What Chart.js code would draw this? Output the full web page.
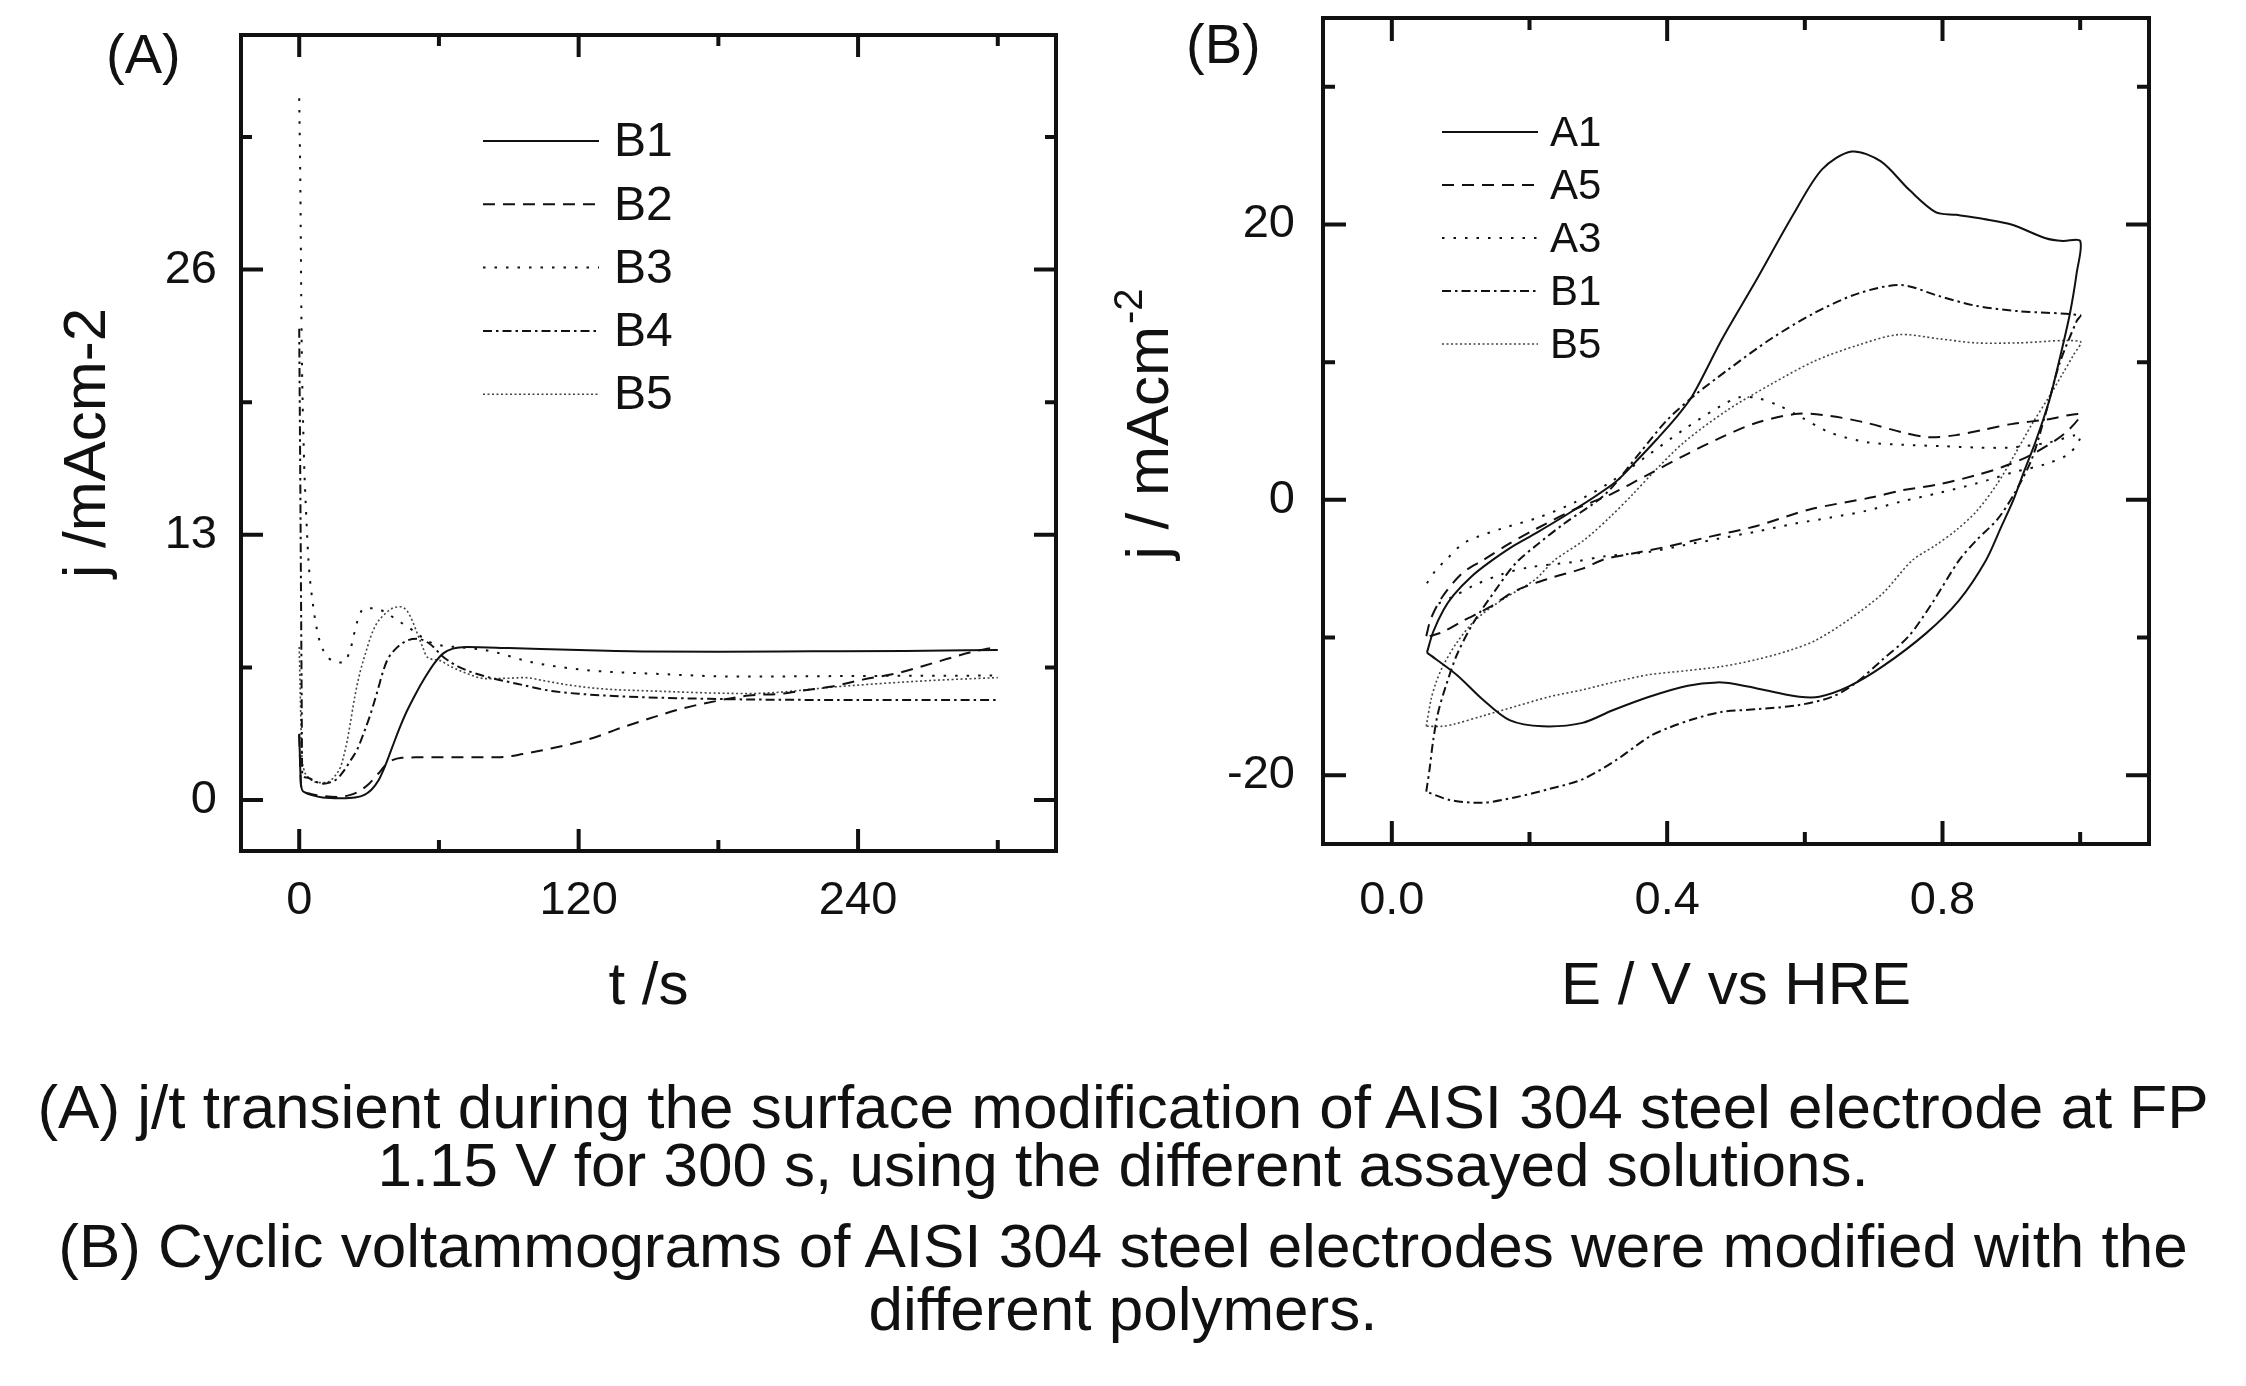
<!DOCTYPE html>
<html>
<head>
<meta charset="utf-8">
<script src="https://cdn.jsdelivr.net/npm/chart.js@4.4.0/dist/chart.umd.min.js"></script>
<style>
  html, body { margin: 0; padding: 0; background: #fff; }
  body { width: 2246px; height: 1386px; position: relative; overflow: hidden;
         font-family: "Liberation Sans", Arial, sans-serif; color: #111; }
  canvas { position: absolute; top: 0; }
  #chartA { left: 0; }
  #chartB { left: 1080px; }
  .panel { position: absolute; font-size: 56px; line-height: 56px; }
  .cap { position: absolute; left: 0; width: 2246px; text-align: center;
         font-size: 62px; line-height: 62px; white-space: nowrap; }
</style>
</head>
<body>
<canvas id="chartA" width="1080" height="1040"></canvas>
<canvas id="chartB" width="1166" height="1040"></canvas>
<div class="panel" style="left:106px; top:26px">(A)</div>
<div class="panel" style="left:1186px; top:16px">(B)</div>
<div class="cap" style="top:1076px">(A) j/t transient during the surface modification of AISI 304 steel electrode at FP</div>
<div class="cap" style="top:1134px">1.15 V for 300 s, using the different assayed solutions.</div>
<div class="cap" style="top:1215px">(B) Cyclic voltammograms of AISI 304 steel electrodes were modified with the</div>
<div class="cap" style="top:1278px">different polymers.</div>
<script>
// ---- (A) j/t transients: t in s, j in mA cm-2
const tB1 = [0, 0.8, 2, 5, 10, 18, 24, 28, 31, 34, 37, 40, 43, 46, 50, 54, 58, 62, 66, 72, 90, 120, 150, 180, 220, 260, 300];
const jB1 = [3.25, 0.7, 0.4, 0.25, 0.12, 0.08, 0.12, 0.25, 0.5, 0.95, 1.7, 2.6, 3.5, 4.3, 5.2, 6.0, 6.7, 7.2, 7.42, 7.5, 7.45, 7.35, 7.28, 7.27, 7.29, 7.31, 7.35];

const tB2 = [0, 0.8, 2, 5, 10, 16, 22, 26, 30, 34, 37, 40, 44, 50, 70, 86, 96, 105, 115, 122, 129, 136, 150, 165, 179, 193, 208, 215, 228, 242, 258, 273, 288, 300];
const jB2 = [3.2, 0.7, 0.4, 0.3, 0.2, 0.15, 0.25, 0.45, 0.8, 1.3, 1.7, 1.95, 2.07, 2.09, 2.09, 2.1, 2.25, 2.45, 2.7, 2.9, 3.15, 3.45, 3.98, 4.5, 4.85, 5.12, 5.22, 5.35, 5.55, 5.9, 6.25, 6.74, 7.23, 7.52];

const tB3 = [0, 0.5, 1, 2, 3, 4, 6, 8.3, 10.5, 14.8, 19, 22, 24.8, 27.6, 32, 37, 41, 49, 55, 62, 68, 82, 100, 125, 150, 190, 240, 300];
const jB3 = [34.4, 30, 23, 17, 14, 11.7, 9.5, 8.0, 7.3, 6.8, 6.74, 7.4, 8.7, 9.37, 9.4, 9.2, 8.9, 8.3, 7.8, 7.55, 7.5, 7.3, 6.75, 6.35, 6.2, 6.05, 6.08, 6.1];

const tB4 = [0, 0.5, 1, 1.3, 3, 4.8, 7, 10.5, 13, 16.3, 19, 22, 25, 27.6, 30, 32, 34, 36, 38, 40.6, 46, 50.6, 56, 62, 69, 79, 93.5, 108, 122, 135, 150, 175, 200, 250, 300];
const jB4 = [23.1, 15, 6, 1.3, 1.1, 1.04, 0.9, 0.8, 0.85, 1.04, 1.4, 1.93, 2.5, 3.25, 4.0, 4.72, 5.5, 6.3, 6.9, 7.31, 7.8, 7.9, 7.66, 7.0, 6.5, 6.09, 5.7, 5.35, 5.19, 5.1, 5.03, 4.96, 4.92, 4.9, 4.9];

const tB5 = [0, 0.5, 1, 2, 3.4, 5, 7.7, 10, 13.4, 15.5, 17.7, 19, 20.6, 22, 23.3, 24.8, 26.3, 28.5, 30.6, 33, 36, 40, 43.4, 46.3, 48.5, 50.6, 53, 55, 60, 65, 72, 80, 90, 97, 105, 115, 130, 150, 193, 236, 270, 300];
const jB5 = [7.5, 5, 2.5, 1.5, 1.19, 1.0, 0.86, 0.85, 0.95, 1.2, 1.6, 2.1, 2.9, 3.8, 4.7, 5.6, 6.34, 7.2, 7.97, 8.6, 9.03, 9.4, 9.47, 9.27, 8.8, 8.2, 7.5, 7.0, 6.85, 6.55, 6.2, 5.95, 5.97, 6.0, 5.85, 5.65, 5.45, 5.35, 5.22, 5.6, 5.85, 6.0];

const xTicksA = [0, 120, 240];
const xMinorA = [60, 180, 300];
const yTicksA = [0, 13, 26];
const yMinorA = [6.5, 19.5, 32.5];

// ---- (B) cyclic voltammograms: E in V vs HRE, j in mA cm-2
const eA1 = [0.051, 0.06, 0.075, 0.09, 0.115, 0.14, 0.175, 0.21, 0.266, 0.325, 0.355, 0.385, 0.41, 0.436, 0.48, 0.53, 0.583, 0.625, 0.668, 0.71, 0.752, 0.79, 0.82, 0.86, 0.9, 0.95, 0.975, 1.0,
             0.995, 0.985, 0.97, 0.955, 0.935, 0.918, 0.903, 0.885, 0.863, 0.824, 0.776, 0.713, 0.664, 0.621, 0.592, 0.55, 0.5, 0.473, 0.43, 0.374, 0.32, 0.277, 0.219, 0.171, 0.132, 0.094, 0.051];
const jA1 = [-11.1, -9.6, -8.0, -6.9, -5.6, -4.6, -3.4, -2.4, -0.7, 1.3, 2.8, 4.4, 5.8, 7.5, 11.7, 16.0, 20.7, 24.0, 25.3, 24.6, 22.5, 20.9, 20.7, 20.4, 20.0, 19.0, 18.8, 18.8,
             16.5, 13.5, 10.2, 7.2, 4.2, 2.0, 0, -2.0, -4.4, -7.3, -9.7, -12.1, -13.55, -14.3, -14.3, -13.9, -13.4, -13.26, -13.5, -14.3, -15.3, -16.2, -16.45, -16.0, -14.5, -12.7, -11.1];

const eA5 = [0.05, 0.057, 0.074, 0.103, 0.132, 0.17, 0.21, 0.265, 0.318, 0.371, 0.424, 0.477, 0.53, 0.59, 0.636, 0.689, 0.742, 0.78, 0.82, 0.86, 0.9, 0.954, 1.0,
             0.977, 0.93, 0.888, 0.85, 0.792, 0.742, 0.7, 0.607, 0.53, 0.46, 0.4, 0.35, 0.31, 0.277, 0.229, 0.18, 0.142, 0.103, 0.074, 0.055];
const jA5 = [-9.9, -8.6, -7.0, -5.3, -4.4, -3.2, -2.1, -0.7, 0.4, 1.8, 3.2, 4.5, 5.6, 6.25, 6.1, 5.6, 4.9, 4.55, 4.7, 5.1, 5.5, 5.85, 6.2,
             4.8, 3.3, 2.4, 1.8, 1.1, 0.7, 0.2, -0.7, -1.9, -2.7, -3.4, -3.9, -4.3, -5.0, -5.7, -6.6, -7.8, -8.8, -9.6, -9.9];

const eA3 = [0.051, 0.064, 0.078, 0.106, 0.159, 0.212, 0.265, 0.318, 0.371, 0.424, 0.477, 0.505, 0.53, 0.56, 0.593, 0.636, 0.689, 0.742, 0.8, 0.85, 0.9, 0.954, 1.0,
             0.985, 0.95, 0.903, 0.85, 0.795, 0.742, 0.689, 0.636, 0.583, 0.53, 0.477, 0.424, 0.371, 0.31, 0.265, 0.2, 0.16, 0.12, 0.09, 0.065];
const jA3 = [-6.06, -5.1, -4.4, -3.1, -2.1, -1.3, -0.2, 1.3, 3.2, 5.1, 6.8, 7.45, 7.4, 6.9, 6.05, 4.9, 4.2, 4.0, 3.9, 3.8, 3.8, 4.16, 4.7,
             3.4, 2.6, 2.0, 1.2, 0.5, -0.1, -0.8, -1.3, -1.75, -2.3, -2.8, -3.3, -3.8, -4.1, -4.5, -4.9, -5.4, -6.2, -7.0, -7.6];

const eB1 = [0.05, 0.055, 0.06, 0.067, 0.078, 0.095, 0.12, 0.15, 0.18, 0.21, 0.251, 0.31, 0.36, 0.4, 0.44, 0.487, 0.551, 0.615, 0.678, 0.74, 0.795, 0.848, 0.911, 1.0,
             0.995, 0.97, 0.95, 0.93, 0.905, 0.88, 0.85, 0.824, 0.785, 0.751, 0.713, 0.674, 0.64, 0.592, 0.533, 0.48, 0.44, 0.4, 0.374, 0.326, 0.277, 0.229, 0.18, 0.132, 0.084, 0.05];
const jB1cv = [-21.2, -19.5, -17.5, -15.5, -13.6, -11.2, -8.8, -6.6, -4.6, -3.3, -1.7, 0.4, 3.4, 5.8, 7.6, 9.4, 11.7, 13.6, 15.0, 15.6, 14.8, 14.1, 13.7, 13.4,
               13.0, 9.9, 6.3, 3.0, 0.5, -1.4, -2.9, -4.4, -7.5, -9.9, -11.6, -13.3, -14.3, -14.9, -15.2, -15.4, -15.9, -16.6, -17.2, -18.9, -20.3, -21.0, -21.6, -22.0, -21.8, -21.2];

const eB5 = [0.05, 0.057, 0.064, 0.074, 0.094, 0.122, 0.16, 0.208, 0.236, 0.28, 0.318, 0.35, 0.38, 0.424, 0.487, 0.551, 0.615, 0.678, 0.736, 0.795, 0.848, 0.911, 1.0,
             0.99, 0.975, 0.955, 0.93, 0.905, 0.88, 0.85, 0.82, 0.79, 0.756, 0.713, 0.664, 0.616, 0.58, 0.53, 0.48, 0.43, 0.374, 0.326, 0.277, 0.229, 0.18, 0.132, 0.09, 0.074, 0.05];
const jB5cv = [-16.45, -14.5, -13.3, -12.1, -10.4, -8.7, -7.27, -5.8, -4.4, -2.9, -1.2, 0.4, 2.0, 4.16, 6.5, 8.4, 10.1, 11.25, 12.0, 11.7, 11.4, 11.4, 11.5,
               10.5, 9.2, 7.5, 5.5, 3.3, 1.2, -0.8, -2.2, -3.3, -4.4, -6.8, -8.7, -10.2, -10.9, -11.6, -12.1, -12.4, -12.7, -13.2, -13.8, -14.3, -15.0, -15.7, -16.3, -16.45, -16.45];

const xTicksB = [0, 0.4, 0.8];
const xLabelsB = ['0.0', '0.4', '0.8'];
const xMinorB = [0.2, 0.6, 1.0];
const yTicksB = [-20, 0, 20];
const yLabelsB = ['-20', '0', '20'];
const yMinorB = [-10, 10, 30];

// line styles
const INK = '#111';
const SOLID = [];
const DASH = [12, 8];
const DOT = [2.5, 9];
const DASHDOT = [9, 4, 2.5, 4];
const FINEDOT = [2, 2.5];

const pts = (xs, ys) => xs.map((x, i) => ({ x, y: ys[i] }));

Chart.defaults.font.family = '"Liberation Sans", Arial, sans-serif';
Chart.defaults.color = INK;

// closed frame with inward ticks on all four sides
const frameTicks = {
  id: 'frameTicks',
  afterDatasetsDraw(chart, args, o) {
    const { ctx, chartArea: a, scales: { x, y } } = chart;
    ctx.save();
    ctx.strokeStyle = INK;
    ctx.lineWidth = 4;
    ctx.strokeRect(a.left, a.top, a.right - a.left, a.bottom - a.top);
    ctx.beginPath();
    const vx = (vals, len) => vals.forEach(v => {
      const px = x.getPixelForValue(v);
      ctx.moveTo(px, a.bottom); ctx.lineTo(px, a.bottom - len);
      ctx.moveTo(px, a.top); ctx.lineTo(px, a.top + len);
    });
    const vy = (vals, len) => vals.forEach(v => {
      const py = y.getPixelForValue(v);
      ctx.moveTo(a.left, py); ctx.lineTo(a.left + len, py);
      ctx.moveTo(a.right, py); ctx.lineTo(a.right - len, py);
    });
    vx(o.xMajor, o.major); vx(o.xMinor, o.minor);
    vy(o.yMajor, o.major); vy(o.yMinor, o.minor);
    ctx.stroke();
    ctx.restore();
  }
};

// legend drawn inside the plot area
const innerLegend = {
  id: 'innerLegend',
  afterDraw(chart, args, o) {
    const ctx = chart.ctx;
    ctx.save();
    chart.data.datasets.forEach((ds, i) => {
      const y = o.top + i * o.gap;
      ctx.beginPath();
      ctx.setLineDash(ds.borderDash);
      ctx.lineWidth = ds.borderWidth;
      ctx.strokeStyle = ds.borderColor;
      ctx.moveTo(o.x0, y); ctx.lineTo(o.x1, y);
      ctx.stroke();
      ctx.setLineDash([]);
      ctx.fillStyle = INK;
      ctx.font = o.size + 'px "Liberation Sans", Arial, sans-serif';
      ctx.textBaseline = 'middle';
      ctx.fillText(ds.label, o.textX, y + 2);
    });
    ctx.restore();
  }
};

// rotated y title with a superscript
const supTitle = {
  id: 'supTitle',
  afterDraw(chart, args, o) {
    if (!o.text) return;
    const ctx = chart.ctx;
    const main = o.size + 'px "Liberation Sans", Arial, sans-serif';
    const small = o.supSize + 'px "Liberation Sans", Arial, sans-serif';
    ctx.save();
    ctx.translate(o.x, o.y);
    ctx.rotate(-Math.PI / 2);
    ctx.fillStyle = INK;
    ctx.textBaseline = 'alphabetic';
    ctx.font = main;
    const w1 = ctx.measureText(o.text).width;
    ctx.font = small;
    const w2 = ctx.measureText(o.sup).width;
    const x0 = -(w1 + w2) / 2;
    const base = o.size * 0.36;
    ctx.font = main;
    ctx.fillText(o.text, x0, base);
    ctx.font = small;
    ctx.fillText(o.sup, x0 + w1 + 2, base - o.size * 0.42);
    ctx.restore();
  }
};

// fixed axis boxes, no extra label padding around the plot
const fixHeight = h => s => { s.height = h; s.paddingLeft = 0; s.paddingRight = 0; };
const fixWidth = w => s => { s.width = w; s.paddingTop = 0; s.paddingBottom = 0; };

const seriesA = (label, t, j, dash, extra) => Object.assign({
  label, data: pts(t, j), borderColor: INK, borderWidth: 2, borderDash: dash,
  pointRadius: 0, cubicInterpolationMode: 'monotone', fill: false
}, extra || {});

const seriesB = (label, e, j, dash, extra) => Object.assign({
  label, data: pts(e, j), borderColor: INK, borderWidth: 2, borderDash: dash,
  pointRadius: 0, tension: 0.3, fill: false
}, extra || {});

const tickFont = { size: 47 };
const titleFont = { size: 60 };

new Chart(document.getElementById('chartA'), {
  type: 'line',
  data: {
    datasets: [
      seriesA('B1', tB1, jB1, SOLID),
      seriesA('B2', tB2, jB2, DASH),
      seriesA('B3', tB3, jB3, DOT),
      seriesA('B4', tB4, jB4, DASHDOT),
      seriesA('B5', tB5, jB5, FINEDOT, { borderColor: '#444', borderWidth: 1.6 })
    ]
  },
  options: {
    responsive: false,
    animation: false,
    layout: { padding: { left: 0, top: 35, right: 24, bottom: 0 } },
    plugins: {
      legend: { display: false },
      tooltip: { enabled: false },
      frameTicks: { xMajor: xTicksA, xMinor: xMinorA, yMajor: yTicksA, yMinor: yMinorA, major: 22, minor: 11 },
      innerLegend: { x0: 483, x1: 599, textX: 614, top: 141, gap: 63.3, size: 48 }
    },
    scales: {
      x: {
        type: 'linear', min: -25, max: 325, bounds: 'data',
        grid: { display: false, drawTicks: false }, border: { display: false },
        afterBuildTicks: s => { s.ticks = xTicksA.map(v => ({ value: v })); },
        afterFit: fixHeight(189),
        ticks: { font: tickFont, padding: 22, maxRotation: 0 },
        title: { display: true, text: 't /s', font: titleFont, padding: 17 }
      },
      y: {
        type: 'linear', min: -2.5, max: 37.5, bounds: 'data',
        grid: { display: false, drawTicks: false }, border: { display: false },
        afterBuildTicks: s => { s.ticks = yTicksA.map(v => ({ value: v })); },
        afterFit: fixWidth(241),
        ticks: { font: tickFont, padding: 24 },
        title: { display: true, text: 'j /mAcm-2', font: titleFont, padding: 52 }
      }
    }
  },
  plugins: [frameTicks, innerLegend]
});

new Chart(document.getElementById('chartB'), {
  type: 'line',
  data: {
    datasets: [
      seriesB('A1', eA1, jA1, SOLID),
      seriesB('A5', eA5, jA5, DASH),
      seriesB('A3', eA3, jA3, DOT),
      seriesB('B1', eB1, jB1cv, DASHDOT),
      seriesB('B5', eB5, jB5cv, FINEDOT, { borderColor: '#444', borderWidth: 1.6 })
    ]
  },
  options: {
    responsive: false,
    animation: false,
    layout: { padding: { left: 0, top: 18, right: 97, bottom: 0 } },
    plugins: {
      legend: { display: false },
      tooltip: { enabled: false },
      frameTicks: { xMajor: xTicksB, xMinor: xMinorB, yMajor: yTicksB, yMinor: yMinorB, major: 23, minor: 12 },
      innerLegend: { x0: 362, x1: 458, textX: 470, top: 132, gap: 53, size: 42 },
      supTitle: { text: 'j / mAcm', sup: '-2', x: 66, y: 425, size: 60, supSize: 40 }
    },
    scales: {
      x: {
        type: 'linear', min: -0.1, max: 1.1, bounds: 'data',
        grid: { display: false, drawTicks: false }, border: { display: false },
        afterBuildTicks: s => { s.ticks = xTicksB.map(v => ({ value: v })); },
        afterFit: fixHeight(196),
        ticks: { font: tickFont, padding: 29, maxRotation: 0, callback: (v, i) => xLabelsB[i] },
        title: { display: true, text: 'E / V vs HRE', font: titleFont, padding: 17 }
      },
      y: {
        type: 'linear', min: -25, max: 35, bounds: 'data',
        grid: { display: false, drawTicks: false }, border: { display: false },
        afterBuildTicks: s => { s.ticks = yTicksB.map(v => ({ value: v })); },
        afterFit: fixWidth(243),
        ticks: { font: tickFont, padding: 28, callback: (v, i) => yLabelsB[i] },
        title: { display: false }
      }
    }
  },
  plugins: [frameTicks, innerLegend, supTitle]
});
</script>
</body>
</html>
